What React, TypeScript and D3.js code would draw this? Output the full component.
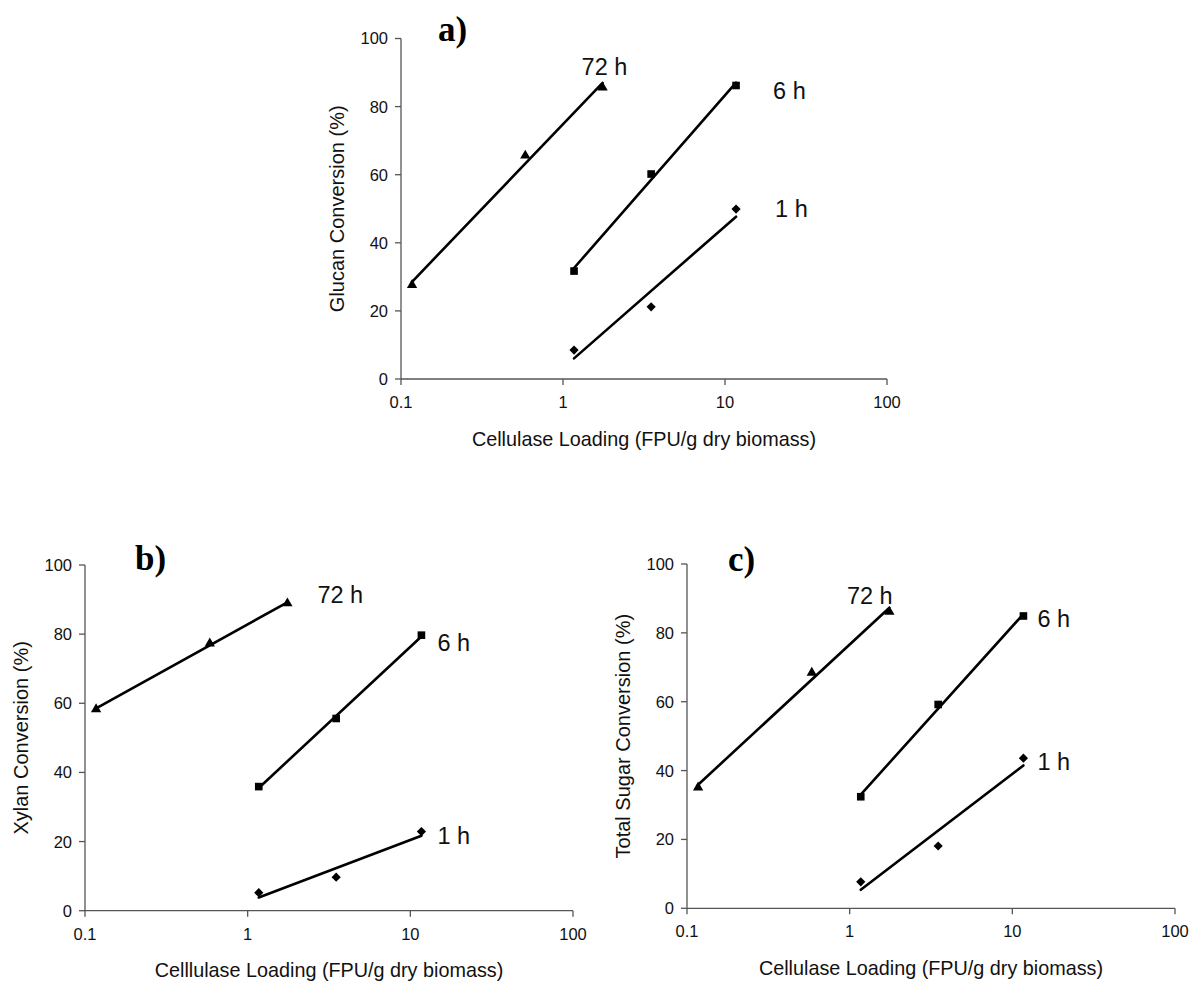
import React from "react";
import * as d3 from "d3";

// Enzyme loadings (FPU/g dry biomass)
const loadings72h = [0.117, 0.585, 1.755];
const loadingsShort = [1.17, 3.5, 11.7];

// a) Glucan conversion (%)
const glucan72h = [27.6, 65.6, 85.6];
const glucan6h = [31.7, 60.2, 86.2];
const glucan1h = [8.5, 21.2, 49.9];

// b) Xylan conversion (%)
const xylan72h = [58.3, 77.3, 88.9];
const xylan6h = [35.9, 55.6, 79.7];
const xylan1h = [5.2, 9.7, 22.9];

// c) Total sugar conversion (%)
const total72h = [35.1, 68.4, 86.1];
const total6h = [32.4, 59.2, 84.9];
const total1h = [7.7, 18.1, 43.6];

const seriesNames = ["72 h", "6 h", "1 h"];
const xTickValues = [0.1, 1, 10, 100];
const xTickLabels = ["0.1", "1", "10", "100"];
const yTickValues = [0, 20, 40, 60, 80, 100];

type Marker = "triangle" | "square" | "diamond";

interface Series {
  name: string;
  xs: number[];
  ys: number[];
  marker: Marker;
  labelDx: number;
  labelDy: number;
}

interface Panel {
  letter: string;
  yTitle: string;
  xTitle: string;
  left: number;
  top: number;
  width: number;
  height: number;
  letterDx: number;
  letterDy: number;
  series: Series[];
}

const panels: Panel[] = [
  {
    letter: "a)",
    yTitle: "Glucan Conversion (%)",
    xTitle: "Cellulase Loading (FPU/g dry biomass)",
    left: 401,
    top: 38.5,
    width: 486,
    height: 340.5,
    letterDx: 37,
    letterDy: 2,
    series: [
      { name: seriesNames[0], xs: loadings72h, ys: glucan72h, marker: "triangle", labelDx: -21, labelDy: -13 },
      { name: seriesNames[1], xs: loadingsShort, ys: glucan6h, marker: "square", labelDx: 37, labelDy: 14 },
      { name: seriesNames[2], xs: loadingsShort, ys: glucan1h, marker: "diamond", labelDx: 39, labelDy: 8 },
    ],
  },
  {
    letter: "b)",
    yTitle: "Xylan Conversion (%)",
    xTitle: "Celllulase Loading (FPU/g dry biomass)",
    left: 85,
    top: 565,
    width: 488,
    height: 345.7,
    letterDx: 50,
    letterDy: 5,
    series: [
      { name: seriesNames[0], xs: loadings72h, ys: xylan72h, marker: "triangle", labelDx: 30, labelDy: 0 },
      { name: seriesNames[1], xs: loadingsShort, ys: xylan6h, marker: "square", labelDx: 16, labelDy: 16 },
      { name: seriesNames[2], xs: loadingsShort, ys: xylan1h, marker: "diamond", labelDx: 16, labelDy: 12 },
    ],
  },
  {
    letter: "c)",
    yTitle: "Total Sugar Conversion (%)",
    xTitle: "Cellulase Loading (FPU/g dry biomass)",
    left: 687,
    top: 564,
    width: 488,
    height: 344.3,
    letterDx: 41,
    letterDy: 6.5,
    series: [
      { name: seriesNames[0], xs: loadings72h, ys: total72h, marker: "triangle", labelDx: -42.5, labelDy: -7.5 },
      { name: seriesNames[1], xs: loadingsShort, ys: total6h, marker: "square", labelDx: 14, labelDy: 11 },
      { name: seriesNames[2], xs: loadingsShort, ys: total1h, marker: "diamond", labelDx: 14, labelDy: 11.5 },
    ],
  },
];

const SANS = "'Liberation Sans', Arial, sans-serif";
const SERIF = "'Liberation Serif', 'Times New Roman', serif";
const AXIS_COLOR = "#555";

// Least-squares fit of y against log10(x): Excel-style logarithmic trendline
function logFit(xs: number[], ys: number[]) {
  const lx = xs.map((v) => Math.log10(v));
  const mx = d3.mean(lx) as number;
  const my = d3.mean(ys) as number;
  let sxy = 0;
  let sxx = 0;
  lx.forEach((v, i) => {
    sxy += (v - mx) * (ys[i] - my);
    sxx += (v - mx) * (v - mx);
  });
  const slope = sxy / sxx;
  const intercept = my - slope * mx;
  return (x: number) => intercept + slope * Math.log10(x);
}

function markerPath(kind: Marker): string {
  if (kind === "triangle") {
    return d3.symbol(d3.symbolTriangle, 46)() as string;
  }
  if (kind === "square") {
    return d3.symbol(d3.symbolSquare, 58)() as string;
  }
  // square rotated 45 degrees
  const r = 4.6;
  return `M0,${-r}L${r},0L0,${r}L${-r},0Z`;
}

function PanelChart({ p }: { p: Panel }) {
  const x = d3
    .scaleLog()
    .domain([0.1, 100])
    .range([p.left, p.left + p.width]);
  const y = d3
    .scaleLinear()
    .domain([0, 100])
    .range([p.top + p.height, p.top]);
  const bottom = p.top + p.height;
  const line = d3
    .line<number>()
    .x((d) => x(d))
    .y((d) => d);

  return (
    <g>
      {/* axes */}
      <line x1={p.left} x2={p.left} y1={p.top} y2={bottom} stroke={AXIS_COLOR} strokeWidth={1.3} />
      <line x1={p.left} x2={p.left + p.width} y1={bottom} y2={bottom} stroke={AXIS_COLOR} strokeWidth={1.3} />
      {yTickValues.map((t) => (
        <g key={"y" + t}>
          <line x1={p.left - 6} x2={p.left} y1={y(t)} y2={y(t)} stroke={AXIS_COLOR} strokeWidth={1.3} />
          <text
            x={p.left - 13}
            y={y(t)}
            dy="0.36em"
            textAnchor="end"
            fontFamily={SANS}
            fontSize={16.5}
            fill="#111"
          >
            {t}
          </text>
        </g>
      ))}
      {xTickValues.map((t, i) => (
        <g key={"x" + t}>
          <line x1={x(t)} x2={x(t)} y1={bottom} y2={bottom + 6} stroke={AXIS_COLOR} strokeWidth={1.3} />
          <text
            x={x(t)}
            y={bottom + 29}
            textAnchor="middle"
            fontFamily={SANS}
            fontSize={16.5}
            fill="#111"
          >
            {xTickLabels[i]}
          </text>
        </g>
      ))}
      {/* axis titles */}
      <text
        x={p.left + p.width / 2}
        y={bottom + 66.5}
        textAnchor="middle"
        fontFamily={SANS}
        fontSize={19.8}
        fill="#111"
      >
        {p.xTitle}
      </text>
      <text
        transform={`translate(${p.left - 64},${p.top + p.height / 2}) rotate(-90)`}
        textAnchor="middle"
        dominantBaseline="central"
        fontFamily={SANS}
        fontSize={20}
        fill="#111"
      >
        {p.yTitle}
      </text>
      {/* panel letter */}
      <text
        x={p.left + p.letterDx}
        y={p.top + p.letterDy}
        fontFamily={SERIF}
        fontWeight="bold"
        fontSize={35}
        fill="#000"
      >
        {p.letter}
      </text>
      {/* series: trendline, markers, label */}
      {p.series.map((s) => {
        const fit = logFit(s.xs, s.ys);
        const x0 = s.xs[0];
        const x1 = s.xs[s.xs.length - 1];
        const ends = [x0, x1];
        const path = d3
          .line<number>()
          .x((d) => x(d))
          .y((d) => y(fit(d)))(ends) as string;
        const lastX = x(x1);
        const lastY = y(s.ys[s.ys.length - 1]);
        return (
          <g key={s.name}>
            <path d={path} fill="none" stroke="#000" strokeWidth={2.6} strokeLinecap="round" />
            {s.xs.map((xv, i) => (
              <path
                key={i}
                d={markerPath(s.marker)}
                transform={`translate(${x(xv)},${y(s.ys[i])})`}
                fill="#000"
              />
            ))}
            <text
              x={lastX + s.labelDx}
              y={lastY + s.labelDy}
              fontFamily={SANS}
              fontSize={23.5}
              fill="#111"
            >
              {s.name}
            </text>
          </g>
        );
      })}
    </g>
  );
}

export default function App() {
  return (
    <svg
      width={1195}
      height={984}
      viewBox="0 0 1195 984"
      style={{ position: "absolute", left: 0, top: 0, background: "#fff" }}
    >
      <rect x={0} y={0} width={1195} height={984} fill="#fff" />
      {panels.map((p) => (
        <PanelChart key={p.letter} p={p} />
      ))}
    </svg>
  );
}
